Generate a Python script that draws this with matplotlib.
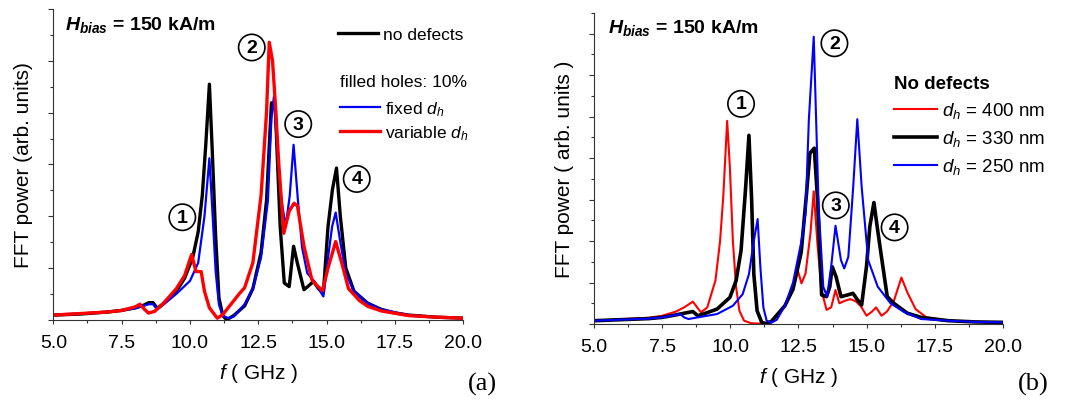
import matplotlib
matplotlib.use('Agg')
import matplotlib.pyplot as plt
from matplotlib.ticker import MultipleLocator, NullFormatter
from matplotlib.lines import Line2D

plt.rcParams['font.family'] = ['Liberation Sans', 'DejaVu Sans']
plt.rcParams['mathtext.fontset'] = 'custom'
plt.rcParams['mathtext.rm'] = 'Liberation Sans'
plt.rcParams['mathtext.it'] = 'Liberation Sans:italic'
plt.rcParams['mathtext.bf'] = 'Liberation Sans:bold'
plt.rcParams['mathtext.sf'] = 'Liberation Sans:bold:italic'

# ---- panel (a): 10% filled holes ----
f_a_nodef = [5.0, 6.0, 7.0, 7.5, 8.0, 8.3, 8.5, 8.65, 8.8, 9.0, 9.5, 9.8, 10.1, 10.3, 10.45,
             10.58, 10.71, 10.82, 10.94, 11.06, 11.2, 11.34, 11.6, 12.0, 12.3, 12.6, 12.8,
             12.98, 13.12, 13.3, 13.45, 13.63, 13.79, 13.93, 14.17, 14.35, 14.52, 14.7,
             14.88, 15.05, 15.21, 15.36, 15.5, 15.7, 16.0, 16.5, 17.0, 17.5, 18.0, 19.0, 20.0]
p_a_nodef = [0.09, 0.11, 0.15, 0.18, 0.23, 0.28, 0.33, 0.33, 0.22, 0.3, 0.55, 0.8, 1.2, 1.7, 2.4,
             3.4, 4.55, 3.2, 1.6, 0.42, 0.08, 0.0, 0.08, 0.27, 0.6, 1.3, 2.3,
             4.19, 4.1, 1.8, 0.71, 0.64, 1.42, 1.09, 0.58, 0.66, 0.74, 0.6,
             0.52, 1.8, 2.51, 2.93, 2.0, 1.0, 0.55, 0.32, 0.2, 0.13, 0.09, 0.05, 0.03]

f_a_fixed = [5.0, 7.0, 7.5, 8.0, 8.3, 8.5, 8.65, 8.8, 9.0, 9.5, 10.0, 10.3, 10.53, 10.71, 10.82,
             10.94, 11.06, 11.2, 11.4, 11.6, 12.0, 12.3, 12.6, 12.85, 12.98, 13.07, 13.2, 13.35,
             13.5, 13.65, 13.79, 13.95, 14.1, 14.29, 14.55, 14.7, 14.88, 15.05, 15.2, 15.33,
             15.5, 15.7, 16.0, 16.5, 17.0, 18.0, 19.0, 20.0]
p_a_fixed = [0.09, 0.15, 0.18, 0.22, 0.27, 0.3, 0.3, 0.2, 0.28, 0.5, 0.75, 1.1, 2.0, 3.12, 2.1,
             0.93, 0.29, 0.08, 0.03, 0.06, 0.3, 0.6, 1.2, 2.3, 3.9, 4.31, 3.2, 2.3,
             1.8, 2.4, 3.38, 2.3, 1.4, 0.9, 0.74, 0.6, 0.45, 1.2, 1.8, 2.07,
             1.5, 0.9, 0.55, 0.32, 0.2, 0.09, 0.05, 0.03]

f_a_var = [5.0, 7.0, 7.5, 8.0, 8.17, 8.3, 8.48, 8.7, 9.0, 9.5, 9.8, 10.06, 10.22, 10.41, 10.53,
           10.71, 11.0, 11.2, 11.5, 11.8, 12.0, 12.3, 12.6, 12.8, 12.9, 13.02, 13.12, 13.25,
           13.43, 13.63, 13.81, 13.93, 14.17, 14.46, 14.65, 14.85, 15.05, 15.33, 15.55, 15.8,
           16.2, 16.5, 17.0, 18.0, 19.0, 20.0]
p_a_var = [0.09, 0.15, 0.18, 0.25, 0.3, 0.22, 0.13, 0.16, 0.3, 0.6, 0.85, 1.26, 0.93, 0.93, 0.55,
           0.23, 0.03, 0.1, 0.3, 0.5, 0.62, 1.1, 2.4, 4.0, 5.36, 5.0, 4.2, 3.0,
           1.67, 2.1, 2.25, 2.2, 1.42, 0.77, 0.66, 0.56, 1.0, 1.51, 1.1, 0.6,
           0.37, 0.26, 0.17, 0.08, 0.05, 0.03]

# ---- panel (b): no defects, different hole diameters ----
f_b_400 = [5.0, 7.0, 7.5, 8.0, 8.3, 8.62, 8.92, 9.15, 9.45, 9.62, 9.74, 9.88, 9.98, 10.09, 10.21,
           10.33, 10.5, 10.76, 11.0, 11.5, 12.0, 12.3, 12.47, 12.61, 12.76, 12.94, 13.06, 13.2,
           13.35, 13.53, 13.7, 13.86, 14.0, 14.2, 14.4, 14.6, 14.8, 15.0, 15.2, 15.35, 15.55,
           15.75, 16.0, 16.28, 16.5, 16.8, 17.2, 18.0, 19.0, 20.0]
p_b_400 = [0.08, 0.15, 0.2, 0.3, 0.4, 0.54, 0.28, 0.4, 1.05, 2.0, 3.1, 4.9, 3.78, 2.0, 0.88,
           0.32, 0.08, 0.02, 0.01, 0.04, 0.44, 0.93, 1.3, 0.98, 1.22, 2.19, 3.2, 1.9,
           0.8, 0.34, 0.4, 0.82, 0.5, 0.56, 0.6, 0.55, 0.42, 0.2, 0.3, 0.4, 0.2,
           0.3, 0.55, 1.12, 0.76, 0.36, 0.16, 0.08, 0.05, 0.04]

f_b_330 = [5.0, 7.0, 7.5, 8.0, 8.3, 8.62, 8.8, 9.0, 9.51, 9.98, 10.21, 10.39, 10.56, 10.68, 10.78,
           10.86, 10.98, 11.15, 11.3, 11.5, 12.0, 12.3, 12.6, 12.8, 12.92, 13.08, 13.2,
           13.35, 13.53, 13.65, 13.74, 13.88, 14.06, 14.3, 14.5, 14.65, 14.82, 15.0, 15.12,
           15.27, 15.4, 15.53, 15.76, 16.0, 16.5, 17.0, 18.0, 19.0, 20.0]
p_b_330 = [0.08, 0.13, 0.16, 0.22, 0.26, 0.3, 0.2, 0.24, 0.36, 0.64, 1.05, 1.77, 3.3, 4.55, 2.98,
           1.2, 0.32, 0.04, 0.01, 0.06, 0.44, 0.84, 1.73, 3.18, 4.12, 4.24, 3.0,
           0.7, 0.66, 0.9, 1.38, 1.14, 0.66, 0.7, 0.74, 0.6, 0.46, 1.4, 2.35,
           2.93, 2.3, 1.7, 0.66, 0.5, 0.26, 0.16, 0.08, 0.05, 0.04]

f_b_250 = [5.0, 7.0, 7.5, 8.0, 8.16, 8.3, 8.46, 8.8, 9.51, 10.09, 10.45, 10.68, 10.86, 11.0, 11.1,
           11.21, 11.33, 11.5, 11.7, 12.0, 12.3, 12.6, 12.76, 12.88, 13.06, 13.24, 13.41, 13.55,
           13.7, 13.86, 14.06, 14.18, 14.33, 14.51, 14.66, 14.82, 15.06, 15.41, 15.88, 16.35,
           17.0, 18.0, 19.0, 20.0]
p_b_250 = [0.08, 0.13, 0.16, 0.22, 0.24, 0.16, 0.12, 0.16, 0.24, 0.44, 0.72, 1.2, 2.0, 2.53, 1.37,
           0.4, 0.08, 0.03, 0.1, 0.44, 1.0, 1.97, 2.67, 4.92, 6.93, 2.83, 0.9, 0.66,
           1.38, 2.37, 1.54, 1.34, 1.62, 3.31, 4.94, 3.31, 1.54, 0.9, 0.5, 0.3,
           0.12, 0.08, 0.05, 0.04]

# mode labels (circled numbers): (frequency, power)
modes_a = [(9.72, 1.98), (12.26, 5.26), (13.96, 3.78), (16.1, 2.72)]
modes_b = [(10.39, 5.31), (13.82, 6.77), (13.87, 2.86), (16.03, 2.33)]

RED = '#ff0000'
BLUE = '#0000ff'

fig = plt.figure(figsize=(10.77, 4.06), dpi=100)
ax_a = fig.add_axes([0.0495, 0.210, 0.3807, 0.765])
ax_b = fig.add_axes([0.5518, 0.1995, 0.3792, 0.766])


def style_axis(ax, ymax):
    ax.set_xlim(5.0, 20.0)
    ax.set_ylim(0, ymax)
    for s in ('top', 'right'):
        ax.spines[s].set_visible(False)
    for s in ('left', 'bottom'):
        ax.spines[s].set_linewidth(0.8)
        ax.spines[s].set_color('#333333')
    ax.xaxis.set_major_locator(MultipleLocator(2.5))
    ax.xaxis.set_minor_locator(MultipleLocator(1.25))
    ax.yaxis.set_major_locator(MultipleLocator(1.0))
    ax.yaxis.set_minor_locator(MultipleLocator(0.5))
    ax.yaxis.set_major_formatter(NullFormatter())
    ax.xaxis.set_major_formatter(lambda v, p: f'{v:.1f}')
    ax.tick_params(axis='x', which='major', direction='out', length=3, width=0.8,
                   color='#333333', labelsize=14, pad=7)
    ax.tick_params(axis='x', which='minor', direction='out', length=2.5, width=0.8,
                   color='#333333')
    ax.tick_params(axis='y', which='major', direction='out', length=3.8, width=0.8,
                   color='#333333')
    ax.tick_params(axis='y', which='minor', direction='out', length=2.4, width=0.8,
                   color='#333333')
    ax.set_xlabel(r'$f$ ( GHz )', fontsize=15, labelpad=7.5)


def circled(ax, pts):
    for i, (x, y) in enumerate(pts, start=1):
        ax.text(x, y, str(i), fontsize=14, fontweight='bold', ha='center', va='center',
                bbox=dict(boxstyle='circle,pad=0.24', fc='white', ec='black', lw=1.2))


# ---- panel (a) ----
style_axis(ax_a, 6.0)
ax_a.set_ylabel('FFT power (arb. units)', fontsize=15, labelpad=7)
ax_a.plot(f_a_nodef, p_a_nodef, color='black', lw=2.4)
ax_a.plot(f_a_fixed, p_a_fixed, color=BLUE, lw=1.6)
ax_a.plot(f_a_var, p_a_var, color=RED, lw=2.4)
circled(ax_a, modes_a)
ax_a.text(0.028, 0.936, r'$\mathsf{H}_{\mathsf{bias}}$ = 150 kA/m', transform=ax_a.transAxes,
          fontsize=14, fontweight='bold', ha='left', va='baseline')

leg1 = ax_a.legend([Line2D([], [], color='black', lw=2.4)], ['no defects'],
                   loc='upper left', bbox_to_anchor=(0.694, 0.943), frameon=False,
                   fontsize=12.5, handlelength=2.3, handletextpad=0.3,
                   borderpad=0, borderaxespad=0)
ax_a.add_artist(leg1)
ax_a.text(0.699, 0.768, 'filled holes: 10%', transform=ax_a.transAxes,
          fontsize=12.5, ha='left', va='center')
ax_a.legend([Line2D([], [], color=BLUE, lw=1.6), Line2D([], [], color=RED, lw=2.4)],
            [r'fixed $d_h$', r'variable $d_h$'],
            loc='upper left', bbox_to_anchor=(0.699, 0.71), frameon=False,
            fontsize=12.5, handlelength=2.3, handletextpad=0.3, labelspacing=0.3,
            borderpad=0, borderaxespad=0)

# ---- panel (b) ----
style_axis(ax_b, 7.5)
ax_b.set_ylabel('FFT power ( arb. units )', fontsize=15, labelpad=7)
ax_b.plot(f_b_400, p_b_400, color=RED, lw=1.5, label=r'$d_h$ = 400 nm')
ax_b.plot(f_b_330, p_b_330, color='black', lw=2.6, label=r'$d_h$ = 330 nm')
ax_b.plot(f_b_250, p_b_250, color=BLUE, lw=1.5, label=r'$d_h$ = 250 nm')
circled(ax_b, modes_b)
ax_b.text(0.033, 0.938, r'$\mathsf{H}_{\mathsf{bias}}$ = 150 kA/m', transform=ax_b.transAxes,
          fontsize=14, fontweight='bold', ha='left', va='baseline')
ax_b.legend(title='No defects', alignment='left',
            title_fontproperties={'weight': 'bold', 'size': 13.5},
            loc='upper left', bbox_to_anchor=(0.734, 0.8), frameon=False,
            fontsize=13.5, handlelength=2.3, handletextpad=0.27, labelspacing=0.43,
            borderpad=0, borderaxespad=0)

fig.text(0.448, 0.052, '(a)', family='Liberation Serif', fontsize=19, ha='center', va='center')
fig.text(0.959, 0.052, '(b)', family='Liberation Serif', fontsize=19, ha='center', va='center')

fig.savefig('out.png', dpi=100)
